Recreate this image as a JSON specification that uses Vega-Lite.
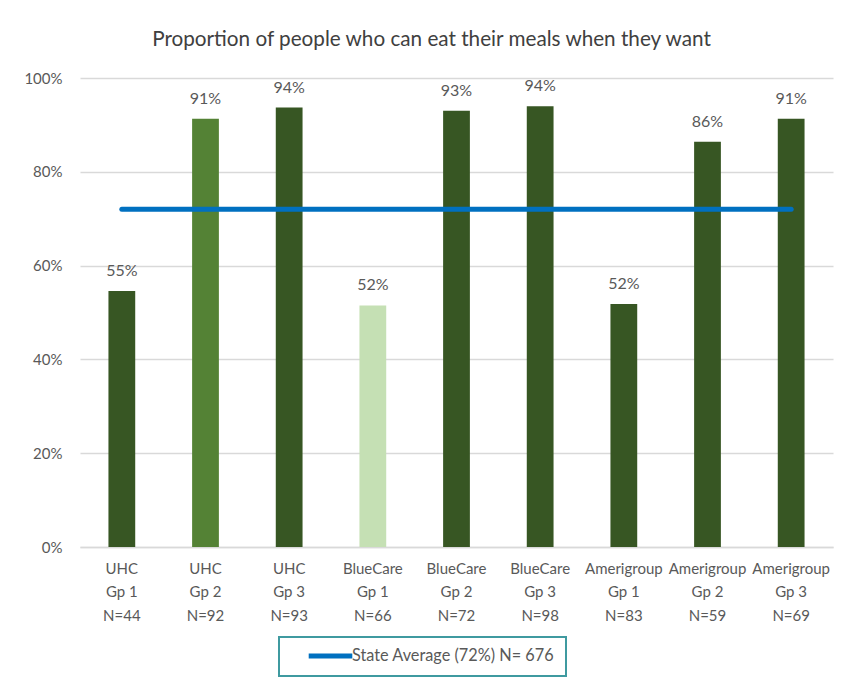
{
  "$schema": "https://vega.github.io/schema/vega-lite/v6.json",
  "autosize": {"type": "none"},
  "width": 753,
  "height": 469,
  "padding": {"left": 80, "top": 78, "right": 12, "bottom": 139},
  "background": "white",
  "title": {
    "text": "Proportion of people who can eat their meals when they want",
    "fontSize": 20.7,
    "font": "Lato",
    "fontWeight": "normal",
    "color": "#404040",
    "anchor": "middle",
    "dx": -25,
    "offset": 20
  },
  "data": {
    "values": [
      {"cat": "UHC|Gp 1|N=44", "pct": 0.546, "avg": 0.72},
      {"cat": "UHC|Gp 2|N=92", "pct": 0.913, "avg": 0.72},
      {"cat": "UHC|Gp 3|N=93", "pct": 0.937, "avg": 0.72},
      {"cat": "BlueCare|Gp 1|N=66", "pct": 0.515, "avg": 0.72},
      {"cat": "BlueCare|Gp 2|N=72", "pct": 0.930, "avg": 0.72},
      {"cat": "BlueCare|Gp 3|N=98", "pct": 0.940, "avg": 0.72},
      {"cat": "Amerigroup|Gp 1|N=83", "pct": 0.518, "avg": 0.72},
      {"cat": "Amerigroup|Gp 2|N=59", "pct": 0.864, "avg": 0.72},
      {"cat": "Amerigroup|Gp 3|N=69", "pct": 0.913, "avg": 0.72}
    ]
  },
  "encoding": {
    "x": {
      "field": "cat",
      "type": "nominal",
      "sort": null,
      "title": null,
      "scale": {"paddingInner": 0.68, "paddingOuter": 0.34},
      "axis": {
        "labelAngle": 0,
        "labelExpr": "split(datum.label, '|')",
        "labelFont": "Lato",
        "labelFontSize": 15,
        "labelColor": "#595959",
        "labelLineHeight": 23.5,
        "labelPadding": 14,
        "labelBaseline": "top",
        "ticks": false,
        "domain": true,
        "domainColor": "#D9D9D9",
        "domainWidth": 1.5,
        "grid": false
      }
    }
  },
  "layer": [
    {
      "mark": {"type": "bar"},
      "encoding": {
        "y": {
          "field": "pct",
          "type": "quantitative",
          "title": null,
          "scale": {"domain": [0, 1]},
          "axis": {
            "values": [0, 0.2, 0.4, 0.6, 0.8, 1],
            "format": ".0%",
            "labelFont": "Lato",
            "labelFontSize": 15,
            "labelColor": "#595959",
            "labelPadding": 18,
            "ticks": false,
            "domain": false,
            "grid": true,
            "gridColor": "#D9D9D9",
            "gridWidth": 1.5
          }
        },
        "color": {
          "field": "cat",
          "type": "nominal",
          "legend": null,
          "scale": {
            "domain": ["UHC|Gp 1|N=44", "UHC|Gp 2|N=92", "UHC|Gp 3|N=93", "BlueCare|Gp 1|N=66", "BlueCare|Gp 2|N=72", "BlueCare|Gp 3|N=98", "Amerigroup|Gp 1|N=83", "Amerigroup|Gp 2|N=59", "Amerigroup|Gp 3|N=69"],
            "range": ["#375623", "#548235", "#375623", "#C5E0B4", "#375623", "#375623", "#375623", "#375623", "#375623"]
          }
        }
      }
    },
    {
      "mark": {"type": "text", "baseline": "alphabetic", "dy": -15, "font": "Lato", "fontSize": 16, "color": "#595959"},
      "encoding": {
        "y": {"field": "pct", "type": "quantitative"},
        "text": {"field": "pct", "type": "quantitative", "format": ".0%"}
      }
    },
    {
      "mark": {"type": "line", "strokeWidth": 5, "strokeCap": "round"},
      "encoding": {
        "y": {"field": "avg", "type": "quantitative"},
        "color": {
          "datum": "State Average (72%) N= 676",
          "type": "nominal",
          "scale": {"range": ["#0070C0"]},
          "legend": {
            "title": null,
            "orient": "none",
            "legendX": 199,
            "legendY": 559,
            "symbolType": "stroke",
            "symbolStrokeWidth": 5,
            "symbolSize": 1900,
            "symbolOffset": 16,
            "clipHeight": 16,
            "labelLimit": 400,
            "labelFont": "Lato",
            "labelFontSize": 16.3,
            "labelColor": "#595959",
            "labelOffset": -3,
            "padding": 11,
            "strokeColor": "#3F9AA0",
            "encode": {"legend": {"update": {"strokeWidth": {"value": 2}}}}
          }
        }
      }
    }
  ],
  "resolve": {"scale": {"color": "independent"}},
  "config": {"view": {"stroke": null}}
}
